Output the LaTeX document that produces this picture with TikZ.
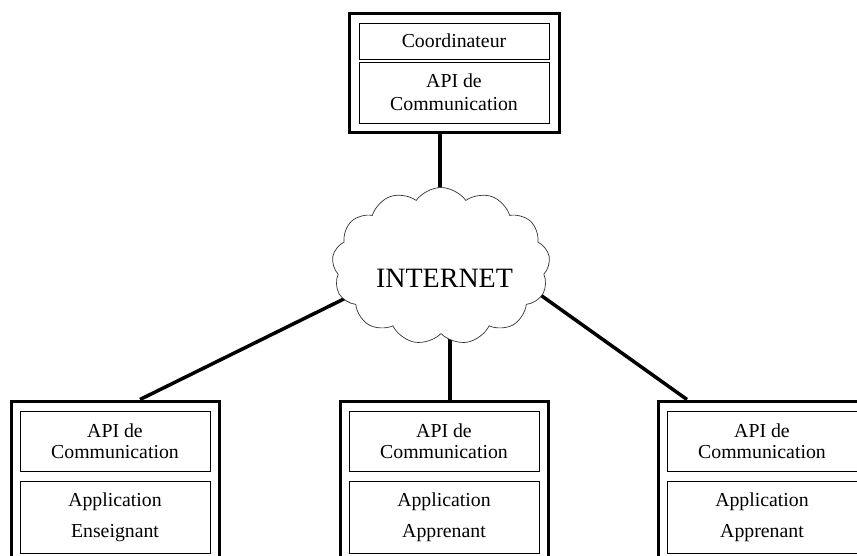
\documentclass[tikz,border=0pt]{standalone}
\usepackage{fontspec}
\setmainfont{Liberation Serif}
\usetikzlibrary{shapes.symbols}
\begin{document}
\begin{tikzpicture}[x=1pt,y=-1pt,
  outerbox/.style={draw, line width=3pt, minimum width=208pt, minimum height=164pt, inner sep=0pt},
  innerbox/.style={draw, line width=1pt, minimum width=190pt, inner sep=0pt, align=center,
    font=\fontsize{19.8}{21}\selectfont},
  apibox/.style={innerbox, minimum height=60pt},
  appbox/.style={innerbox, minimum height=72pt},
  link/.style={line width=3.5pt},
  ]
\useasboundingbox (0,0) rectangle (857,555);
\clip (0,0) rectangle (857,555);
\fill[white] (0,0) rectangle (857,555);

% top
\node[outerbox, minimum width=210pt, minimum height=119pt] (top) at (454,73) {};
\node[innerbox, minimum height=36pt] (coord) at (454,41) {Coordinateur};
\node[innerbox, minimum height=61pt] (tapi) at (454,92.5) {API de\\[2pt]Communication};

% bottom left
\node[outerbox] (L) at (115,483) {};
\node[apibox] (Lapi) at (115,441) {API de\\Communication};
\node[appbox] (Lapp) at (115,517) {Application\\[10pt]Enseignant};

% bottom middle
\node[outerbox] (M) at (444,483) {};
\node[apibox] (Mapi) at (444,441) {API de\\Communication};
\node[appbox] (Mapp) at (444,517) {Application\\[10pt]Apprenant};

% bottom right
\node[outerbox] (R) at (762,483) {};
\node[apibox] (Rapi) at (762,441) {API de\\Communication};
\node[appbox] (Rapp) at (762,517) {Application\\[10pt]Apprenant};

% points inside the cloud (hidden by its white fill)
\coordinate (cT) at (440,212);
\coordinate (cL) at (360,291);
\coordinate (cB) at (450,322);
\coordinate (cR) at (530,287.5);

\draw[link] ([xshift=-14pt]top.south) -- (cT);
\draw[link] (cL) -- ([xshift=25pt]L.north);
\draw[link] (cB) -- ([xshift=6pt]M.north);
\draw[link] (cR) -- ([xshift=-75pt]R.north);

\node[cloud, cloud puffs=13, cloud puff arc=110, cloud ignores aspect, draw=black!80, fill=white,
  line width=0.7pt, minimum width=218pt, minimum height=157pt] (net) at (441,266) {};
\node[font=\fontsize{28}{30}\selectfont, inner sep=0pt] (netlabel) at (444.5,278) {INTERNET};
\end{tikzpicture}
\end{document}
